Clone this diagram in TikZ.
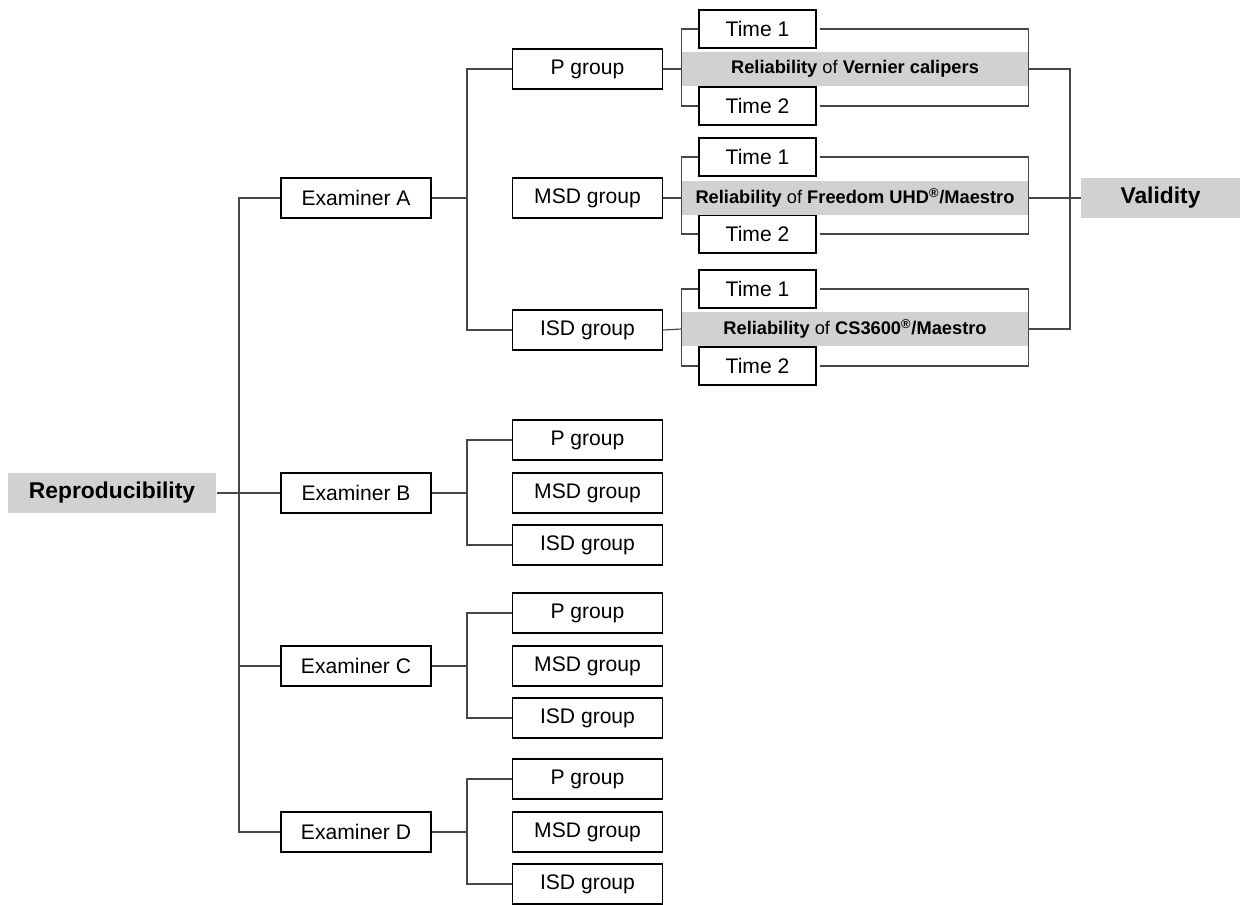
\documentclass[tikz,border=0pt]{standalone}
\usepackage{fontspec}
\setmainfont{Liberation Sans}
\usetikzlibrary{backgrounds}

\tikzset{
    box/.style={draw, fill=white, line width=0.75pt, inner sep=0pt,
        minimum width=3.0cm, minimum height=0.8cm, font=\fontsize{12}{14}\selectfont},
    timebox/.style={box, minimum width=2.34cm, minimum height=0.76cm},
    head/.style={fill=black!18, inner sep=0pt, minimum height=0.81cm,
        font=\fontsize{13}{15}\selectfont\bfseries},
    band/.style={fill=black!18, inner sep=0pt, minimum width=6.92cm,
        minimum height=0.68cm, font=\fontsize{10.4}{12}\selectfont},
    link/.style={draw=black!72, line width=0.65pt}
}

\begin{document}
\begin{tikzpicture}[x=0.02cm, y=-0.02cm]
    \useasboundingbox (0,0) rectangle (1240,905);

    \node[head, minimum width=4.18cm] (repro) at (112,493) {Reproducibility};
    \node[head, minimum width=3.18cm] (valid) at (1160.5,198) {Validity};

    \node[box] (exA) at (356,198) {Examiner A};
    \node[box] (exB) at (356,493) {Examiner B};
    \node[box] (exC) at (356,666) {Examiner C};
    \node[box] (exD) at (356,832) {Examiner D};

    \node[box] (pA) at (587.5,69) {P group};
    \node[box] (msdA) at (587.5,198) {MSD group};
    \node[box] (isdA) at (587.5,330) {ISD group};

    \node[timebox] (t1P) at (757.5,29) {Time 1};
    \node[timebox] (t2P) at (757.5,106) {Time 2};
    \node[timebox] (t1M) at (757.5,157) {Time 1};
    \node[timebox] (t2M) at (757.5,234) {Time 2};
    \node[timebox] (t1I) at (757.5,289) {Time 1};
    \node[timebox] (t2I) at (757.5,366) {Time 2};

    \node[band] (relP) at (855,69) {\textbf{Reliability} of \textbf{Vernier calipers}};
    \node[band] (relM) at (855,198) {\textbf{Reliability} of \textbf{Freedom UHD\textsuperscript{®}/Maestro}};
    \node[band] (relI) at (855,329) {\textbf{Reliability} of \textbf{CS3600\textsuperscript{®}/Maestro}};

    \foreach \n/\y in {B/493, C/666, D/832} {
        \node[box] (p\n) at (587.5,\y-53) {P group};
        \node[box] (msd\n) at (587.5,\y) {MSD group};
        \node[box] (isd\n) at (587.5,\y+52) {ISD group};
        \coordinate (bus\n) at (467,\y);
        \draw[link] (ex\n.east) -- (bus\n);
        \draw[link] (p\n.west) -| (bus\n) |- (isd\n.west);
    }

    \coordinate (busA) at (467,198);
    \coordinate (rbus) at (239,493);
    \coordinate (vtop) at (1070,69);
    \coordinate (vbot) at (1070,329);

    \begin{scope}[on background layer]
        \draw[link] (repro.east) -- (exB.west);
        \draw[link] (exA.west) -| (rbus) |- (exD.west);
        \draw[link] (rbus |- exC.west) -- (exC.west);

        \draw[link] (exA.east) -- (busA);
        \draw[link] (pA.west) -| (busA) |- (isdA.west);

        \draw[link] (pA.east) -- (relP.west);
        \draw[link] (msdA.east) -- (relM.west);
        \draw[link] (isdA.east) -- (relI.west);

        % brackets round the two times
        \draw[link] (t1P.west) -| (relP.west) |- (t2P.west);
        \draw[link] (t1M.west) -| (relM.west) |- (t2M.west);
        \draw[link] (t1I.west) -| (relI.west) |- (t2I.west);
        \draw[link] ([xshift=2]t1P.east) -| (relP.east) |- ([xshift=2]t2P.east);
        \draw[link] ([xshift=2]t1M.east) -| (relM.east) |- ([xshift=2]t2M.east);
        \draw[link] ([xshift=2]t1I.east) -| (relI.east) |- ([xshift=2]t2I.east);

        \draw[link] (relP.east) -- (vtop) -- (vbot) -- (relI.east);
        \draw[link] (relM.east) -- (valid.west);
    \end{scope}
\end{tikzpicture}
\end{document}
